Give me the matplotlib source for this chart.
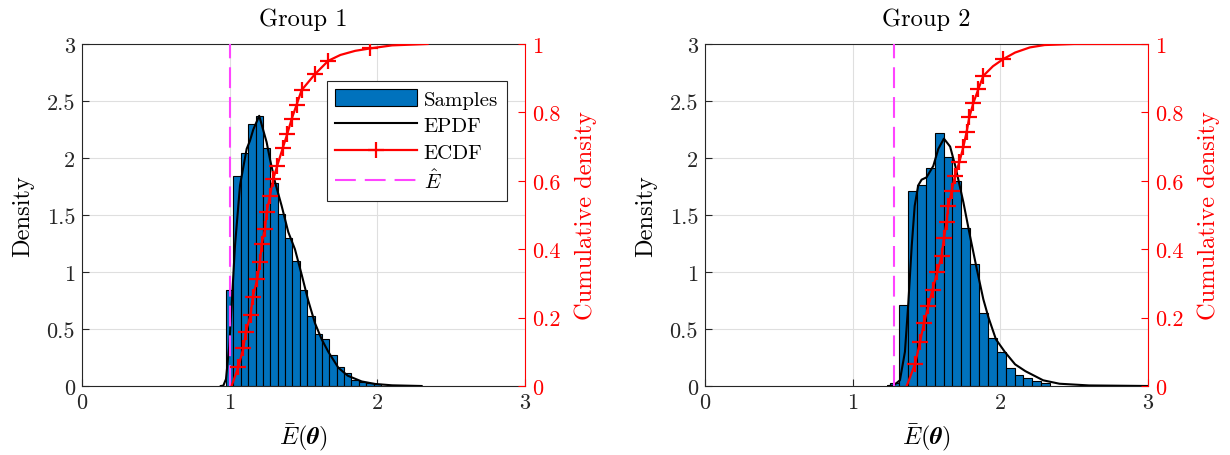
import numpy as np
import matplotlib
matplotlib.use("Agg")
import matplotlib.pyplot as plt
from matplotlib.patches import Patch
from matplotlib.lines import Line2D
from matplotlib.ticker import FuncFormatter

plt.rcParams['font.family'] = 'serif'
plt.rcParams['font.serif'] = ['cmr10']
plt.rcParams['mathtext.fontset'] = 'cm'
plt.rcParams['axes.unicode_minus'] = False
plt.rcParams['axes.formatter.use_mathtext'] = True

# ---- Group 1 : histogram (density), EPDF, ECDF ----
g1_edge0, g1_bw = 0.975, 0.05
g1_hist = [0.84, 1.84, 2.04, 2.30, 2.37, 2.09, 1.78, 1.51, 1.30, 1.10, 0.84,
           0.61, 0.456, 0.41, 0.27, 0.17, 0.11, 0.053, 0.032, 0.024, 0.015]
g1_pdf_x = [0.94, 0.957, 0.975, 0.997, 1.013, 1.036, 1.07, 1.115, 1.137, 1.16,
            1.20, 1.25, 1.273, 1.307, 1.352, 1.397, 1.442, 1.487, 1.532, 1.578,
            1.623, 1.668, 1.736, 1.80, 1.894, 1.984, 2.1, 2.3]
g1_pdf_y = [0.0, 0.003, 0.06, 0.35, 0.70, 1.23, 1.76, 2.08, 2.15, 2.25,
            2.37, 2.14, 1.99, 1.79, 1.58, 1.35, 1.20, 0.98, 0.75, 0.55,
            0.41, 0.30, 0.16, 0.09, 0.04, 0.018, 0.006, 0.0]
# ECDF: first the line start, then the "+" marker points, then tail points
g1_cdf_x = [1.013, 1.058, 1.092, 1.110, 1.142, 1.156, 1.187, 1.205, 1.217, 1.239,
            1.250, 1.273, 1.295, 1.322, 1.359, 1.390, 1.420, 1.453, 1.487, 1.578,
            1.668, 1.95, 1.75, 1.85, 2.1, 2.34]
g1_cdf_y = [0.0, 0.055, 0.110, 0.159, 0.208, 0.259, 0.313, 0.362, 0.415, 0.459,
            0.508, 0.556, 0.605, 0.644, 0.695, 0.737, 0.781, 0.822, 0.865, 0.912,
            0.951, 0.987, 0.968, 0.980, 0.996, 1.0]
g1_nmk = 21
g1_ehat = 1.0

# ---- Group 2 ----
g2_edge0, g2_bw = 1.256, 0.06
g2_hist = [0.024, 0.71, 1.71, 1.76, 1.91, 2.22, 2.01, 1.80, 1.39, 1.07, 0.64,
           0.42, 0.30, 0.16, 0.096, 0.067, 0.047, 0.026]
g2_pdf_x = [1.24, 1.275, 1.32, 1.354, 1.377, 1.40, 1.42, 1.444, 1.467, 1.50,
            1.546, 1.58, 1.618, 1.66, 1.695, 1.75, 1.794, 1.84, 1.885, 1.92,
            1.97, 2.03, 2.10, 2.17, 2.23, 2.29, 2.4, 2.6, 3.0]
g2_pdf_y = [0.0, 0.003, 0.05, 0.30, 0.73, 1.23, 1.58, 1.76, 1.81, 1.83,
            1.93, 2.08, 2.17, 2.10, 1.93, 1.61, 1.32, 1.03, 0.76, 0.60,
            0.41, 0.30, 0.19, 0.13, 0.09, 0.05, 0.02, 0.005, 0.0]
g2_cdf_x = [1.366, 1.422, 1.456, 1.483, 1.512, 1.541, 1.573, 1.602, 1.618, 1.636,
            1.647, 1.670, 1.692, 1.722, 1.749, 1.772, 1.790, 1.817, 1.851, 1.885,
            2.02, 1.95, 2.1, 2.2, 2.3, 2.5, 3.0]
g2_cdf_y = [0.0, 0.064, 0.128, 0.184, 0.233, 0.282, 0.334, 0.379, 0.433, 0.479,
            0.525, 0.569, 0.613, 0.654, 0.698, 0.744, 0.786, 0.827, 0.868, 0.907,
            0.956, 0.935, 0.975, 0.99, 0.997, 1.0, 1.0]
g2_nmk = 20
g2_ehat = 1.28

blue = '#0072BD'
axcol = '#262626'
magenta = '#FF44FF'
fmt = FuncFormatter(lambda v, p: f'{v:g}')
TICK, LAB = 16, 17.6


def panel(ax, edge0, bw, hist, px, py, cx, cy, nmk, ehat, title, legend=False):
    edges = edge0 + bw * np.arange(len(hist))
    ax.bar(edges, hist, width=bw, align='edge', color=blue, edgecolor='k',
           linewidth=0.8, zorder=2)
    ax.plot(px, py, color='k', lw=1.5, zorder=3)
    ax.axvline(ehat, color=magenta, lw=1.5, dashes=(10, 4.3), zorder=4)
    ax.set_xlim(0, 3)
    ax.set_ylim(0, 3)
    ax.set_xticks([0, 1, 2, 3])
    ax.set_yticks(np.arange(0, 3.01, 0.5))
    ax.xaxis.set_major_formatter(fmt)
    ax.yaxis.set_major_formatter(fmt)
    ax.grid(True, color='#dfdfdf', lw=0.8)
    ax.set_axisbelow(True)
    ax.tick_params(direction='in', length=5, labelsize=TICK, colors=axcol, pad=5)
    for s in ['left', 'bottom', 'top']:
        ax.spines[s].set_color(axcol)
    ax.spines['right'].set_visible(False)
    ax.set_xlabel(r'$\bar{E}(\boldsymbol{\theta})$', fontsize=LAB, color='k',
                  labelpad=7)
    ax.set_ylabel('Density', fontsize=LAB, color='k', labelpad=9)
    ax.set_title(title, fontsize=LAB, color='k', pad=14)

    # line drawn in x order, markers at the read "+" positions
    order = np.argsort(cx, kind='stable')
    sx = np.asarray(cx)[order]
    sy = np.asarray(cy)[order]
    ar = ax.twinx()
    ar.plot(sx, sy, color='red', lw=1.6, zorder=5)
    ar.plot(cx[1:nmk + 1], cy[1:nmk + 1], ls='none', marker='+', ms=11,
            mew=1.6, color='red', zorder=5)
    ar.set_ylim(0, 1)
    ar.set_yticks(np.arange(0, 1.01, 0.2))
    ar.yaxis.set_major_formatter(fmt)
    ar.tick_params(direction='in', length=5, labelsize=TICK, colors='red', pad=5)
    for s in ['left', 'bottom', 'top']:
        ar.spines[s].set_visible(False)
    ar.spines['right'].set_color('red')
    ar.set_ylabel('Cumulative density', fontsize=LAB, color='red', labelpad=10)

    if legend:
        h = [Patch(facecolor=blue, edgecolor='k', lw=0.8),
             Line2D([], [], color='k', lw=1.5),
             Line2D([], [], color='red', lw=1.6, marker='+', ms=11, mew=1.6),
             Line2D([], [], color=magenta, lw=1.5, dashes=(10, 4.3))]
        lab = ['Samples', 'EPDF', 'ECDF', r'$\hat{E}$']
        leg = ar.legend(h, lab, loc='upper left', bbox_to_anchor=(0.553, 0.892),
                        fontsize=15, frameon=True, fancybox=False,
                        edgecolor=axcol, framealpha=1, borderpad=0.4,
                        labelspacing=0.33, handlelength=3.9, handleheight=0.85,
                        handletextpad=0.35, borderaxespad=0)
        leg.get_frame().set_linewidth(0.8)


fig = plt.figure(figsize=(12.3, 4.56), dpi=100)
a1 = fig.add_axes([82 / 1230, 69 / 456, 443 / 1230, 342 / 456])
a2 = fig.add_axes([705 / 1230, 69 / 456, 443 / 1230, 342 / 456])

panel(a1, g1_edge0, g1_bw, g1_hist, g1_pdf_x, g1_pdf_y, g1_cdf_x, g1_cdf_y,
      g1_nmk, g1_ehat, 'Group 1', legend=True)
panel(a2, g2_edge0, g2_bw, g2_hist, g2_pdf_x, g2_pdf_y, g2_cdf_x, g2_cdf_y,
      g2_nmk, g2_ehat, 'Group 2')

fig.savefig('out.png', dpi=100)
